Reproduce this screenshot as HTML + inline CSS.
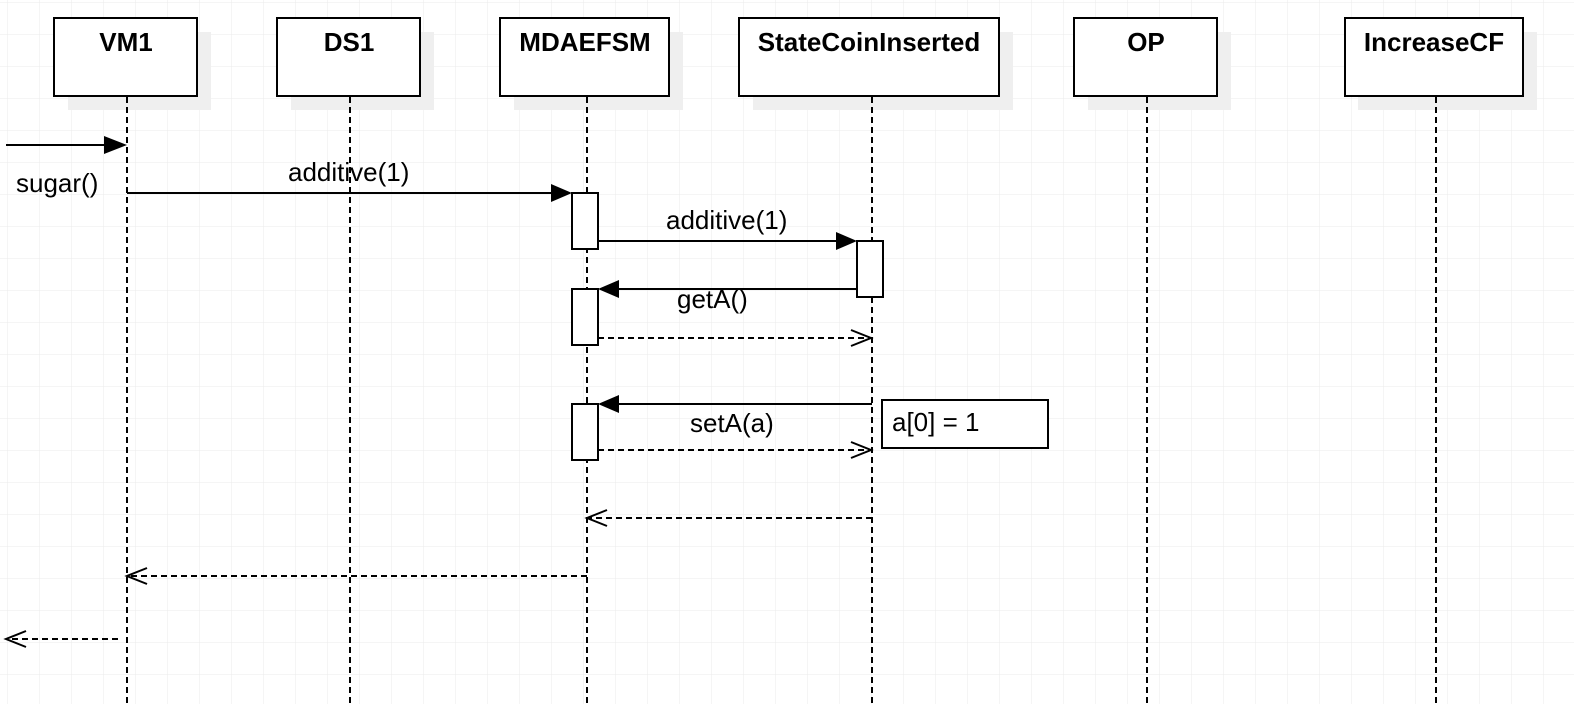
<!DOCTYPE html>
<html><head><style>
html,body{margin:0;padding:0;background:#fff;}
svg{display:block;font-family:"Liberation Sans",Arial,sans-serif;}
</style></head><body>
<svg width="1574" height="704" xmlns="http://www.w3.org/2000/svg">
<defs>
<pattern id="g" x="7" y="2" width="32" height="32" patternUnits="userSpaceOnUse">
<path d="M0 0H32M0 0V32" stroke="#ebebeb" stroke-width="1" fill="none"/>
</pattern>
</defs>
<rect width="1574" height="704" fill="url(#g)"/>
<g fill="#efefef">
<rect x="68" y="32" width="143" height="78"/>
<rect x="291" y="32" width="143" height="78"/>
<rect x="514" y="32" width="169" height="78"/>
<rect x="753" y="32" width="260" height="78"/>
<rect x="1088" y="32" width="143" height="78"/>
<rect x="1358" y="32" width="179" height="78"/>
</g>
<g fill="#fff" stroke="#000" stroke-width="2">
<rect x="54" y="18" width="143" height="78"/>
<rect x="277" y="18" width="143" height="78"/>
<rect x="500" y="18" width="169" height="78"/>
<rect x="739" y="18" width="260" height="78"/>
<rect x="1074" y="18" width="143" height="78"/>
<rect x="1345" y="18" width="178" height="78"/>
</g>
<g font-weight="bold" font-size="26" text-anchor="middle">
<text x="126" y="51">VM1</text>
<text x="349" y="51">DS1</text>
<text x="585" y="51">MDAEFSM</text>
<text x="869" y="51">StateCoinInserted</text>
<text x="1146" y="51">OP</text>
<text x="1434" y="51">IncreaseCF</text>
</g>
<g stroke="#000" stroke-width="2" stroke-dasharray="6,4">
<line x1="127" y1="97" x2="127" y2="704"/>
<line x1="350" y1="97" x2="350" y2="704"/>
<line x1="587" y1="97" x2="587" y2="704"/>
<line x1="872" y1="97" x2="872" y2="704"/>
<line x1="1147" y1="97" x2="1147" y2="704"/>
<line x1="1436" y1="97" x2="1436" y2="704"/>
</g>
<g fill="#fff" stroke="#000" stroke-width="2">
<rect x="572" y="193" width="26" height="56"/>
<rect x="857" y="241" width="26" height="56"/>
<rect x="572" y="289" width="26" height="56"/>
<rect x="572" y="404" width="26" height="56"/>
<rect x="882" y="400" width="166" height="48"/>
</g>
<g stroke="#000" stroke-width="2" fill="none">
<line x1="6" y1="145" x2="104" y2="145"/>
<line x1="127" y1="193" x2="551" y2="193"/>
<line x1="598" y1="241" x2="836" y2="241"/>
<line x1="857" y1="289" x2="619" y2="289"/>
<line x1="872" y1="404" x2="619" y2="404"/>
</g>
<g fill="#000">
<polygon points="104,136 127,145 104,154"/>
<polygon points="551,184 572,193 551,202"/>
<polygon points="836,232 857,241 836,250"/>
<polygon points="619,280 598,289 619,298"/>
<polygon points="619,395 598,404 619,413"/>
</g>
<g stroke="#000" stroke-width="2" fill="none">
<g stroke-dasharray="6,4">
<line x1="598" y1="338" x2="870" y2="338"/>
<line x1="598" y1="450" x2="870" y2="450"/>
<line x1="872" y1="518" x2="589" y2="518"/>
<line x1="587" y1="576" x2="129" y2="576"/>
<line x1="118" y1="639" x2="8" y2="639"/>
</g>
<polyline points="851,330 871,338 851,346"/>
<polyline points="851,442 871,450 851,458"/>
<polyline points="607,510 587,518 607,526"/>
<polyline points="147,568 127,576 147,584"/>
<polyline points="26,631 6,639 26,647"/>
</g>
<g font-size="26">
<text x="16" y="192">sugar()</text>
<text x="288" y="181">additive(1)</text>
<text x="666" y="229">additive(1)</text>
<text x="677" y="308">getA()</text>
<text x="690" y="432">setA(a)</text>
<text x="892" y="431">a[0] = 1</text>
</g>
</svg>
</body></html>
